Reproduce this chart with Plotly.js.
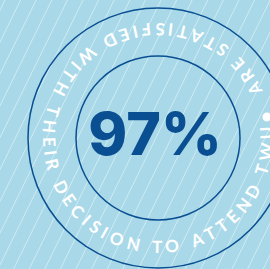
<!DOCTYPE html>
<html>
<head>
<meta charset="utf-8">
<script src="https://cdn.plot.ly/plotly-3.0.1.min.js"></script>
<style>html,body{margin:0;padding:0;background:#a9d9e8;overflow:hidden}#chart{width:270px;height:269px}</style>
</head>
<body>
<div id="chart"></div>
<script>
// ---- data ----
const percentValue = 97;
const percentLabel = percentValue + '%';
const ringText = 'ARE STATISFIED WITH THEIR DECISION TO ATTEND TWU';

// ---- style / layout constants ----
const W = 270, H = 269;
const bg = '#a9d9e8';
const navy = '#0a4f92';
const cx = 158, cy = 138;
const rOuter = 130, rInner = 82;
const rText = 107;
const ringFont = 'Lato', ringSize = 17, ringWeight = 700;
const startDeg = 27;        // centre of first letter
const endDeg = 352.5;       // centre of the 2nd-last letter (W)

// measure letter widths
const cvs = document.createElement('canvas');
const ctx = cvs.getContext('2d');
ctx.font = ringWeight + ' ' + ringSize + 'px "' + ringFont + '"';
const chars = ringText.split('');
const widths = chars.map(c => ctx.measureText(c).width);
const n = chars.length - 2;
let base = 0;
for (let j = 0; j < n; j++) base += widths[j];
base += widths[n] / 2 - widths[0] / 2;
const targetArc = rText * (endDeg - startDeg) * Math.PI / 180;
const tracking = (targetArc - base) / n;

const annotations = [];
let acc = widths[0] / 2;
const c0 = acc;
chars.forEach((ch, i) => {
  const centre = acc;
  acc += widths[i] / 2 + tracking + (i + 1 < chars.length ? widths[i + 1] / 2 : 0);
  if (ch === ' ') return;
  const th = (startDeg + (centre - c0) / rText * 180 / Math.PI);
  const rad = th * Math.PI / 180;
  let ang = 270 - th;
  while (ang > 180) ang -= 360;
  while (ang < -180) ang += 360;
  const rr = rText + 1.5;
  annotations.push({
    x: cx + rr * Math.cos(rad), y: cy - rr * Math.sin(rad),
    xref: 'x', yref: 'y', text: ch, showarrow: false,
    textangle: ang, xanchor: 'center', yanchor: 'middle',
    font: {family: ringFont, size: ringSize, color: '#ffffff', weight: ringWeight}
  });
});

// background stripes
const shapes = [];
const slope = 0.49, step = 15.6;
for (let x0 = 5 - step * 2; x0 < W + slope * H + step; x0 += step) {
  shapes.push({type: 'line', xref: 'x', yref: 'y', layer: 'below',
    x0: x0, y0: 0, x1: x0 - slope * H, y1: H,
    line: {color: 'rgba(255,255,255,0.45)', width: 1}});
}
[rOuter, rInner].forEach(r => shapes.push({
  type: 'circle', xref: 'x', yref: 'y', layer: 'above',
  x0: cx - r, x1: cx + r, y0: cy - r, y1: cy + r,
  line: {color: navy, width: 1.5}
}));

const dotTh = 10.9 * Math.PI / 180, dotR = 111;
const traces = [
  {type: 'scatter', mode: 'text', x: [155], y: [140], text: [percentLabel],
   textposition: 'middle center', cliponaxis: false, hoverinfo: 'skip',
   textfont: {family: 'Inter', size: 59, color: navy, weight: 800}},
  {type: 'scatter', mode: 'markers', x: [cx + dotR * Math.cos(dotTh)], y: [cy - dotR * Math.sin(dotTh)],
   marker: {size: 9, color: '#ffffff'}, cliponaxis: true, hoverinfo: 'skip'}
];

const layout = {
  width: W, height: H, margin: {l: 0, r: 0, t: 0, b: 0},
  paper_bgcolor: bg, plot_bgcolor: bg, showlegend: false,
  xaxis: {range: [0, W], visible: false, fixedrange: true},
  yaxis: {range: [H, 0], visible: false, fixedrange: true},
  shapes: shapes, annotations: annotations
};
Plotly.newPlot('chart', traces, layout, {staticPlot: true, displayModeBar: false});
</script>
</body>
</html>
